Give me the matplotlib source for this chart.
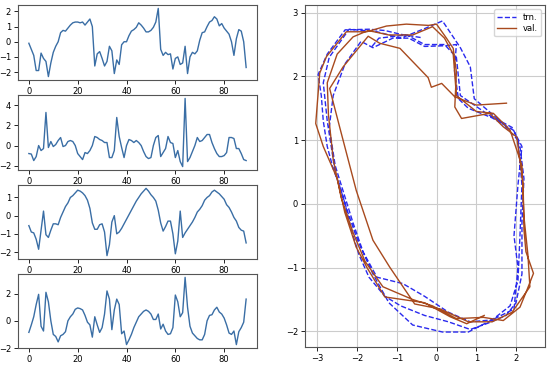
import numpy as np
import matplotlib
matplotlib.use("Agg")
import matplotlib.pyplot as plt

# ---- data ----
s1 = [-0.1, -0.5, -0.9, -1.9, -1.9, -0.75, -1.1, -1.3, -2.3, -1.4,
      -0.7, -0.3, 0.0, 0.6, 0.75, 0.7, 0.9, 1.1, 1.25, 1.3,
      1.3, 1.25, 1.3, 1.1, 1.3, 1.5, 1.0, -1.6, -0.8, -0.65,
      -1.1, -1.6, -1.3, -0.3, -0.6, -2.1, -1.2, -1.5, -0.2, 0.0,
      0.0, 0.4, 0.7, 0.8, 0.95, 1.25, 1.1, 0.9, 0.65, 0.65,
      0.75, 0.95, 1.3, 2.2, -0.5, -0.9, -0.7, -0.85, -0.8, -1.8,
      -1.1, -1.0, -1.5, -1.4, -0.3, -2.1, -1.0, -0.7, -0.8, -0.6,
      0.1, 0.6, 0.65, 1.0, 1.3, 1.4, 1.65, 1.5, 1.05, 1.2,
      0.9, 0.7, 0.5, 0.0, -0.9, 0.2, 0.8, 0.7, 0.0, -1.7]
s2 = [-0.8, -0.85, -1.5, -1.1, 0.0, -0.5, -0.3, 3.3, -0.2, 0.4,
      -0.1, 0.1, 0.5, 0.8, -0.1, 0.0, 0.4, 0.5, 0.4, 0.0,
      -0.8, -1.1, -1.4, -0.7, -0.8, -0.5, 0.0, 0.9, 0.8, 0.6,
      0.5, 0.3, 0.3, -1.2, -1.2, -0.5, 2.8, 0.9, -0.2, -1.2,
      0.0, 0.6, 0.5, 0.3, 0.5, 0.3, 0.0, -0.6, -1.1, -1.3,
      -1.2, 0.0, 0.8, 1.0, -1.1, -0.7, -0.3, 0.9, 0.3, 0.2,
      -1.2, -0.5, -1.6, -2.1, 4.7, -1.6, -1.2, -0.6, 0.0, 0.8,
      0.4, 0.5, 0.8, 1.1, 1.1, 0.3, -0.3, -0.8, -1.1, -1.1,
      -1.0, -0.7, 0.8, 0.8, 0.7, -0.3, -0.3, -0.8, -1.4, -1.5]
s3 = [-0.55, -0.9, -0.95, -1.3, -1.85, -0.8, 0.25, -1.05, -1.2, -0.8,
      -0.45, -0.45, -0.5, -0.1, 0.2, 0.5, 0.7, 1.0, 1.1, 1.25,
      1.4, 1.35, 1.25, 1.1, 0.85, 0.4, -0.4, -0.75, -0.75, -0.5,
      -0.45, -0.9, -2.2, -1.6, -0.35, 0.0, -1.0, -0.9, -0.7, -0.45,
      -0.2, 0.05, 0.3, 0.55, 0.8, 1.0, 1.2, 1.35, 1.5, 1.35,
      1.15, 1.0, 0.8, 0.3, -0.4, -0.85, -0.6, -0.3, -0.3, -1.0,
      -2.1, -1.4, 0.25, -1.2, -0.95, -0.75, -0.55, -0.35, -0.1, 0.2,
      0.35, 0.55, 0.85, 1.0, 1.1, 1.3, 1.4, 1.3, 1.2, 1.05,
      0.9, 0.6, 0.45, 0.2, -0.1, -0.3, -0.65, -0.8, -0.85, -1.5]
s4 = [-0.85, -0.3, 0.3, 1.2, 1.95, -0.4, -0.75, 2.1, 1.4, 0.0,
      -1.0, -1.15, -1.55, -1.1, -1.0, -0.8, 0.0, 0.3, 0.5, 0.85,
      0.95, 0.9, 0.8, 0.4, -0.1, -0.3, -1.2, 0.3, -0.3, -0.85,
      -0.5, 0.5, 2.2, 1.6, -0.65, 0.8, 1.6, 1.2, -0.95, -0.75,
      -1.75, -1.4, -1.0, -0.5, -0.1, 0.3, 0.5, 0.7, 0.8, 0.7,
      0.5, 0.1, 0.1, 0.5, -0.6, -0.25, -0.75, -1.0, -0.95, -0.5,
      1.9, 1.4, 0.3, 0.6, 3.2, 1.0, -0.4, -0.9, -1.1, -1.3,
      -1.4, -1.4, -1.0, 0.0, 0.4, 0.45, 0.8, 1.0, 0.65, 0.5,
      0.2, -0.3, -0.9, -1.0, -0.75, -1.75, -0.8, -0.5, -0.1, 1.6]
series = [s1, s2, s3, s4]
yticks_list = [[-2, -1, 0, 1, 2], [-2, 0, 2, 4], [-2, -1, 0, 1], [-2, 0, 2]]
xticks_left = [0, 20, 40, 60, 80]

trn_x = [-0.4, -0.9, -1.3, -1.7, -2.3, -2.75, -2.98, -2.9, -2.85, -2.75, -2.6, -2.45,
         -2.3, -2.15, -1.95, -1.7, -1.3, -0.9, -0.3, 0.3, 0.85, 1.3, 1.75, 2.0,
         2.15, 2.15, 2.2, 2.1, 1.95, 1.4, 0.8, 0.55, 0.45, 0.5, 0.2, -0.3,
         -0.7, -1.1, -1.6, -1.9, -2.3, -2.6, -2.7, -2.55, -2.3, -2.1, -1.85, -1.5,
         -0.85, -0.3, 0.3, 0.85, 1.4, 1.85, 2.05, 2.1, 2.15, 2.05, 1.6, 0.95,
         0.85, 0.6, 0.15, -0.3, -0.9, -1.5, -2.2, -2.7, -2.85, -2.75, -2.55, -2.25,
         -2.0, -1.6, -1.2, -0.6, 0.15, 0.8, 1.3, 1.95, 2.05, 1.95, 2.05, 2.15,
         1.9, 1.3, 0.6, 0.5, 0.2, -0.3, -0.75, -1.45, -1.65]
trn_y = [2.61, 2.66, 2.72, 2.74, 2.73, 2.35, 2.03, 1.7, 1.3, 0.9, 0.55, 0.3,
         0.0, -0.4, -0.8, -1.15, -1.45, -1.6, -1.75, -1.85, -1.97, -1.87, -1.75, -1.55,
         -1.1, -0.3, 0.4, 0.9, 1.15, 1.35, 1.5, 1.65, 2.1, 2.5, 2.48, 2.47,
         2.6, 2.6, 2.45, 2.55, 2.2, 1.7, 1.2, 0.6, 0.1, -0.3, -0.75, -1.15,
         -1.25, -1.45, -1.7, -1.85, -1.82, -1.6, -1.2, -0.5, 0.3, 1.0, 1.3, 1.65,
         2.15, 2.45, 2.87, 2.75, 2.6, 2.7, 2.74, 2.3, 1.9, 1.3, 0.5, -0.1,
         -0.55, -1.1, -1.55, -1.9, -2.01, -2.01, -1.85, -1.65, -1.0, -0.5, 0.3, 0.9,
         1.2, 1.4, 1.7, 2.3, 2.5, 2.5, 2.65, 2.6, 2.45]

val_x = [1.2, 0.76, 0.34, -0.3, -1.3, -1.75, -2.02, -2.31, -2.5, -2.85, -3.04, -2.94,
         -2.77, -2.27, -1.76, -1.26, -0.76, -0.2, 0.0, 0.25, 0.42, 0.5, 0.46, 0.63,
         1.34, 1.68, 2.02, 2.18, 2.2, 2.25, 2.44, 2.27, 2.1, 1.68,
         1.18, 0.5, -0.1, -0.6, -1.35, -1.8, -2.1, -2.4, -2.6, -2.72, -2.75, -2.5,
         -2.1, -1.72, -1.2, -0.6, -0.1, 0.2, 0.42, 0.5, 1.0, 1.43, 1.85, 2.15,
         2.2, 2.3, 2.35, 1.9, 1.4, 0.8, 0.1, -0.55, -1.18, -1.6, -2.02, -2.44,
         -2.69, -2.35, -1.72, -1.43, -0.92, -0.21, -0.13, 0.13, 0.46, 1.0, 1.76]
val_y = [-1.75, -1.88, -1.77, -1.55, -1.46, -1.0, -0.68, -0.13, 0.4, 0.9, 1.26, 2.05,
         2.31, 2.7, 2.7, 2.79, 2.82, 2.8, 2.82, 2.6, 2.44, 2.07, 1.52, 1.34,
         1.42, 1.21, 1.05, 0.3, -0.4, -0.75, -1.09, -1.36, -1.62, -1.83,
         -1.78, -1.8, -1.6, -1.5, -1.3, -0.9, -0.45, 0.1, 0.7, 1.4, 1.9, 2.35,
         2.62, 2.72, 2.65, 2.65, 2.78, 2.6, 2.35, 1.7, 1.45, 1.42, 1.16, 0.6,
         -0.2, -0.8, -1.3, -1.7, -1.85, -1.85, -1.65, -1.57, -0.99, -0.57, 0.21, 1.21,
         1.81, 2.15, 2.63, 2.52, 2.44, 1.98, 1.83, 1.89, 1.68, 1.55, 1.58]

# ---- figure ----
W, H = 550, 367
fig = plt.figure(figsize=(W / 100, H / 100), dpi=100)

def frac(x0, y0, x1, y1):
    return [x0 / W, 1 - y1 / H, (x1 - x0) / W, (y1 - y0) / H]

left_boxes = [(18, 5, 257, 80), (18, 95, 257, 170), (18, 185, 257, 259), (18, 274, 257, 348)]
for s, yt, box in zip(series, yticks_list, left_boxes):
    ax = fig.add_axes(frac(*box))
    ax.plot(np.arange(len(s)), s, color="#3a6ea5", lw=1.0)
    ax.set_xticks(xticks_left)
    ax.set_yticks(yt)
    ax.set_xlim(-4.45, 93.45)
    ax.tick_params(labelsize=6, length=3, width=0.6, pad=2)
    for sp in ax.spines.values():
        sp.set_linewidth(0.8)
        sp.set_color("#555555")

ax = fig.add_axes(frac(305, 5, 545, 347))
ax.plot(trn_x, trn_y, "--", color="#2a2aee", lw=1.0, label="trn.")
ax.plot(val_x, val_y, "-", color="#a84a1e", lw=1.0, label="val.")
ax.set_xlim(-3.31, 2.73)
ax.set_ylim(-2.245, 3.12)
ax.set_xticks([-3, -2, -1, 0, 1, 2])
ax.set_yticks([-2, -1, 0, 1, 2, 3])
ax.grid(True, color="#cccccc", lw=0.8)
ax.tick_params(labelsize=6, length=3, width=0.6, pad=2)
for sp in ax.spines.values():
    sp.set_linewidth(0.8)
    sp.set_color("#555555")
ax.legend(loc="upper right", fontsize=6, frameon=True, handlelength=2.2,
          borderpad=0.4, labelspacing=0.3)

fig.savefig("out.png", dpi=100)
